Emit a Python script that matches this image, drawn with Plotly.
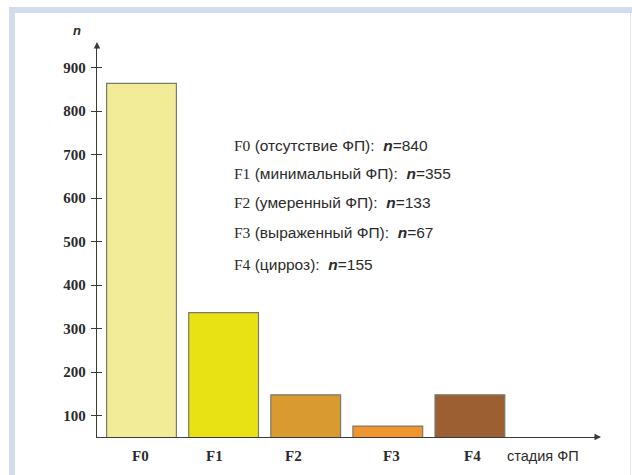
import plotly.graph_objects as go

# ---- data ----
stages = ["F0", "F1", "F2", "F3", "F4"]
bar_heights = [864, 337, 148, 76, 148]          # heights as drawn
descriptions = ["(отсутствие ФП):", "(минимальный ФП):", "(умеренный ФП):",
                "(выраженный ФП):", "(цирроз):"]
counts = [840, 355, 133, 67, 155]
bar_colors = ["#f2ec98", "#e8e215", "#d99a30", "#f0952d", "#9c5f31"]
y_ticks = [100, 200, 300, 400, 500, 600, 700, 800, 900]
label_shift = [-1, -9, -12, 4, 3]
x_title = "стадия ФП"
y_title = "n"

W, H = 632, 475
L, R, T, B = 97, 34, 45, 38
pw, ph = W - L - R, H - T - B

def px(x):
    return (x - L) / pw

def py(y):
    return (H - B - y) / ph

SERIF = "Liberation Serif"
SANS = "Liberation Sans"
TXT = "#2b2b2b"
AX = "#3a3a3a"

fig = go.Figure()
fig.add_trace(go.Bar(
    x=list(range(len(stages))), y=bar_heights, base=0,
    marker=dict(color=bar_colors, line=dict(color="#7a7a6a", width=1.2)),
    width=0.85, showlegend=False, hoverinfo="skip"))
# invisible trace on mirror axis for inside ticks
fig.add_trace(go.Scatter(x=[0], y=[500], yaxis="y2", mode="markers",
                         marker=dict(opacity=0), showlegend=False, hoverinfo="skip"))

fig.update_layout(
    width=W, height=H,
    margin=dict(l=L, r=R, t=T, b=B, pad=0),
    paper_bgcolor="white", plot_bgcolor="white",
    xaxis=dict(range=[-0.542, -0.542 + pw / 82.1], showgrid=False, zeroline=False,
               showline=True, linecolor=AX, linewidth=1.3, ticks="",
               showticklabels=False),
    yaxis=dict(range=[51, 952], showgrid=False, zeroline=False,
               showline=True, linecolor=AX, linewidth=1.3,
               tickvals=y_ticks, ticks="outside", ticklen=5, tickcolor=AX,
               tickwidth=1.2,
               tickfont=dict(family=SERIF, size=15, color=TXT, weight="bold"),
               ticklabelstandoff=2),
    yaxis2=dict(range=[51, 952], overlaying="y", side="left", anchor="x",
                tickvals=y_ticks, ticks="inside", ticklen=5, tickcolor=AX,
                tickwidth=1.2, showticklabels=False, showgrid=False,
                zeroline=False, showline=False),
    font=dict(family=SANS, size=15, color=TXT),
)

ann = []
# x category labels
for i, s in enumerate(stages):
    ann.append(dict(x=i, y=py(456), xref="x", yref="paper", text="<b>" + s + "</b>",
                    showarrow=False, xshift=label_shift[i], xanchor="center",
                    yanchor="middle",
                    font=dict(family=SERIF, size=15, color=TXT)))
ann.append(dict(x=px(543), y=py(456), xref="paper", yref="paper", text=x_title,
                showarrow=False, xanchor="center", yanchor="middle",
                font=dict(family=SANS, size=14.5, color=TXT)))
ann.append(dict(x=px(77), y=py(31), xref="paper", yref="paper",
                text="<b><i>" + y_title + "</i></b>", showarrow=False,
                xanchor="center", yanchor="middle",
                font=dict(family=SANS, size=13, color=TXT)))
# arrowheads
ann.append(dict(x=px(97), y=py(42), xref="paper", yref="paper", text="",
                showarrow=True, arrowhead=2, arrowsize=1, arrowwidth=1.3,
                arrowcolor=AX, ax=0, ay=8))
ann.append(dict(x=px(601), y=py(437), xref="paper", yref="paper", text="",
                showarrow=True, arrowhead=2, arrowsize=1, arrowwidth=1.3,
                arrowcolor=AX, ax=-8, ay=0))
# info text
line_y = [145, 173, 202, 232, 264]
for i, s in enumerate(stages):
    txt = ('<span style="font-family:%s">%s</span> %s  <b><i>n</i></b>=%d'
           % (SERIF, s, descriptions[i], counts[i]))
    ann.append(dict(x=px(232), y=py(line_y[i]), xref="paper", yref="paper",
                    text=txt, showarrow=False, xanchor="left", yanchor="middle",
                    font=dict(family=SANS, size=15.5, color=TXT)))
fig.update_layout(annotations=ann)

# frame
band = "#d3dcec"
fig.add_shape(type="rect", xref="paper", yref="paper", x0=px(9), x1=px(633),
              y0=py(13), y1=py(7), fillcolor=band, line=dict(width=0), layer="below")
fig.add_shape(type="rect", xref="paper", yref="paper", x0=px(9), x1=px(15),
              y0=py(476), y1=py(7), fillcolor=band, line=dict(width=0), layer="below")
fig.add_shape(type="line", xref="paper", yref="paper", x0=px(630.5), x1=px(630.5),
              y0=py(476), y1=py(13), line=dict(color="#e4e4e4", width=1), layer="below")

fig.write_html("out.html")
